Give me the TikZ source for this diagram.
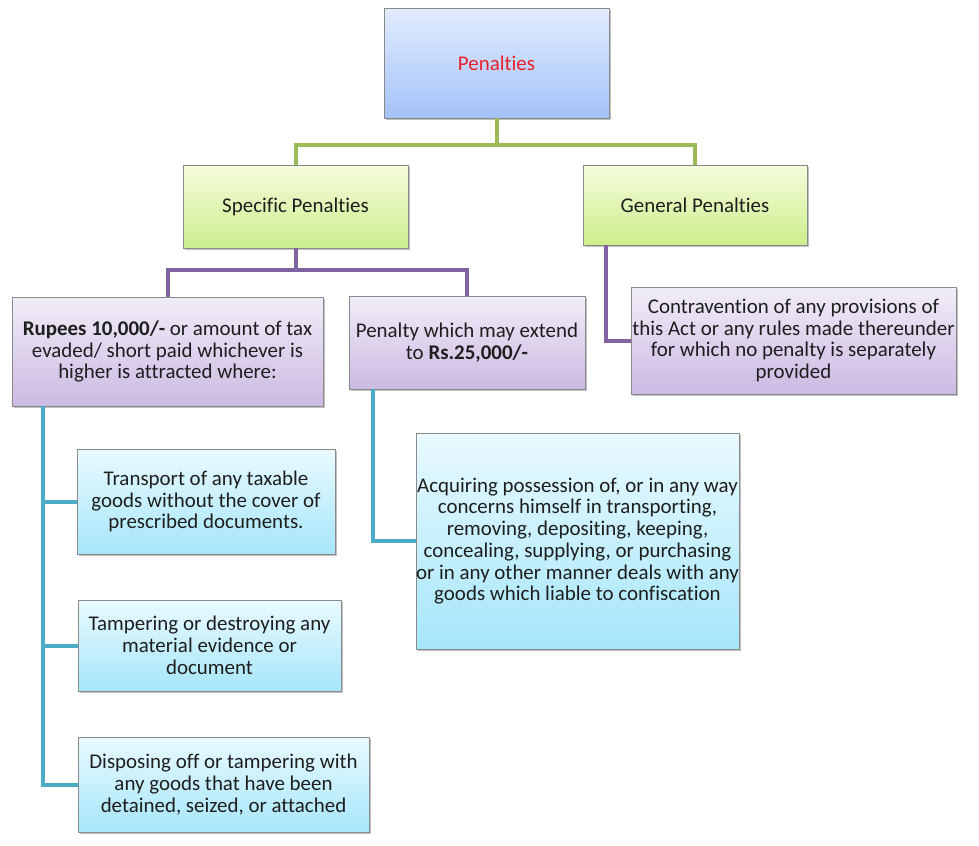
\documentclass[tikz,border=0pt]{standalone}
\usepackage{fontspec}
\setmainfont{Carlito}[Ligatures={NoCommon}]
\usetikzlibrary{shadows}
\definecolor{txt}{HTML}{1E1E1E}
\definecolor{bordc}{HTML}{8A8A8A}
\definecolor{blueT}{HTML}{E2ECFE}
\definecolor{blueB}{HTML}{A4C2F8}
\definecolor{greenT}{HTML}{F5FCDC}
\definecolor{greenB}{HTML}{CCEE8C}
\definecolor{purT}{HTML}{F1EDF8}
\definecolor{purB}{HTML}{CBBAE2}
\definecolor{cyanT}{HTML}{E9FAFF}
\definecolor{cyanB}{HTML}{A6E6FA}
\definecolor{lgreen}{HTML}{9BBB59}
\definecolor{lpurple}{HTML}{8064A2}
\definecolor{lteal}{HTML}{4BACC6}
\definecolor{penred}{HTML}{E8202A}
\tikzset{
  boxbase/.style={draw=bordc, line width=0.6pt, align=center, inner sep=0pt, text=txt,
    font=\fontsize{15.7}{16.3}\selectfont,
    drop shadow={shadow xshift=1.6pt, shadow yshift=-1.6pt, opacity=0.35, fill=black!70}},
  bluebox/.style={boxbase, top color=blueT, bottom color=blueB},
  greenbox/.style={boxbase, top color=greenT, bottom color=greenB},
  purbox/.style={boxbase, top color=purT, bottom color=purB},
  cyanbox/.style={boxbase, top color=cyanT, bottom color=cyanB},
  conn/.style={line width=3pt, line join=miter},
  gline/.style={conn, draw=lgreen},
  pline/.style={conn, draw=lpurple},
  tline/.style={conn, draw=lteal}
}
\begin{document}
\begin{tikzpicture}[x=0.75pt, y=-0.75pt]
\useasboundingbox (0,0) rectangle (979,846);
\fill[white] (0,0) rectangle (979,846);

% nodes
\node[bluebox, minimum width=168.75pt, minimum height=82.5pt, text=penred] (pen) at (496.5,63) {Penalties};
\node[greenbox, minimum width=168.75pt, minimum height=62.25pt] (spec) at (295.5,206.5) {Specific Penalties};
\node[greenbox, minimum width=168pt, minimum height=60pt] (gen) at (695,205) {General Penalties};
\node[purbox, minimum width=233.25pt, minimum height=81.75pt] (rup) at (167.5,351.5)
 {\textbf{Rupees 10,000/-} or amount of tax\\evaded/ short paid whichever is\\higher is attracted where:};
\node[purbox, minimum width=177pt, minimum height=69.75pt] (p25) at (467,342.5)
 {Penalty which may extend\\to \textbf{Rs.25,000/-}};
\node[purbox, minimum width=243.75pt, minimum height=80.25pt] (contra) at (793.5,340.5)
 {Contravention of any provisions of\\this Act or any rules made thereunder\\for which no penalty is separately\\provided};
\node[cyanbox, minimum width=240.75pt, minimum height=162pt] (acq) at (577.5,541)
 {Acquiring possession of, or in any way\\concerns himself in transporting,\\removing, depositing, keeping,\\concealing, supplying, or purchasing\\or in any other manner deals with any\\goods which liable to confiscation};
\node[cyanbox, minimum width=193.5pt, minimum height=78.75pt] (t1) at (206,501.5)
 {Transport of any taxable\\goods without the cover of\\prescribed documents.};
\node[cyanbox, minimum width=197.25pt, minimum height=68.25pt] (t2) at (209.5,645.5)
 {Tampering or destroying any\\material evidence or\\document};
\node[cyanbox, minimum width=218.25pt, minimum height=71.25pt] (t3) at (223.5,784.5)
 {Disposing off or tampering with\\any goods that have been\\detained, seized, or attached};

% connectors
\draw[gline] (pen.south) -- ++(0,27) -| (spec.north);
\draw[gline] (pen.south) -- ++(0,27) -| (gen.north);
\draw[pline] (spec.south) -- ++(0,22) -| (rup.north);
\draw[pline] (spec.south) -- ++(0,22) -| (p25.north);
\draw[pline] ([xshift=17.25pt]gen.south west) |- (contra.west);
\draw[tline] ([xshift=23.25pt]rup.south west) |- (t1.west);
\draw[tline] ([xshift=23.25pt]rup.south west) |- (t2.west);
\draw[tline] ([xshift=23.25pt]rup.south west) |- (t3.west);
\draw[tline] ([xshift=18pt]p25.south west) |- (acq.west);
\end{tikzpicture}
\end{document}
